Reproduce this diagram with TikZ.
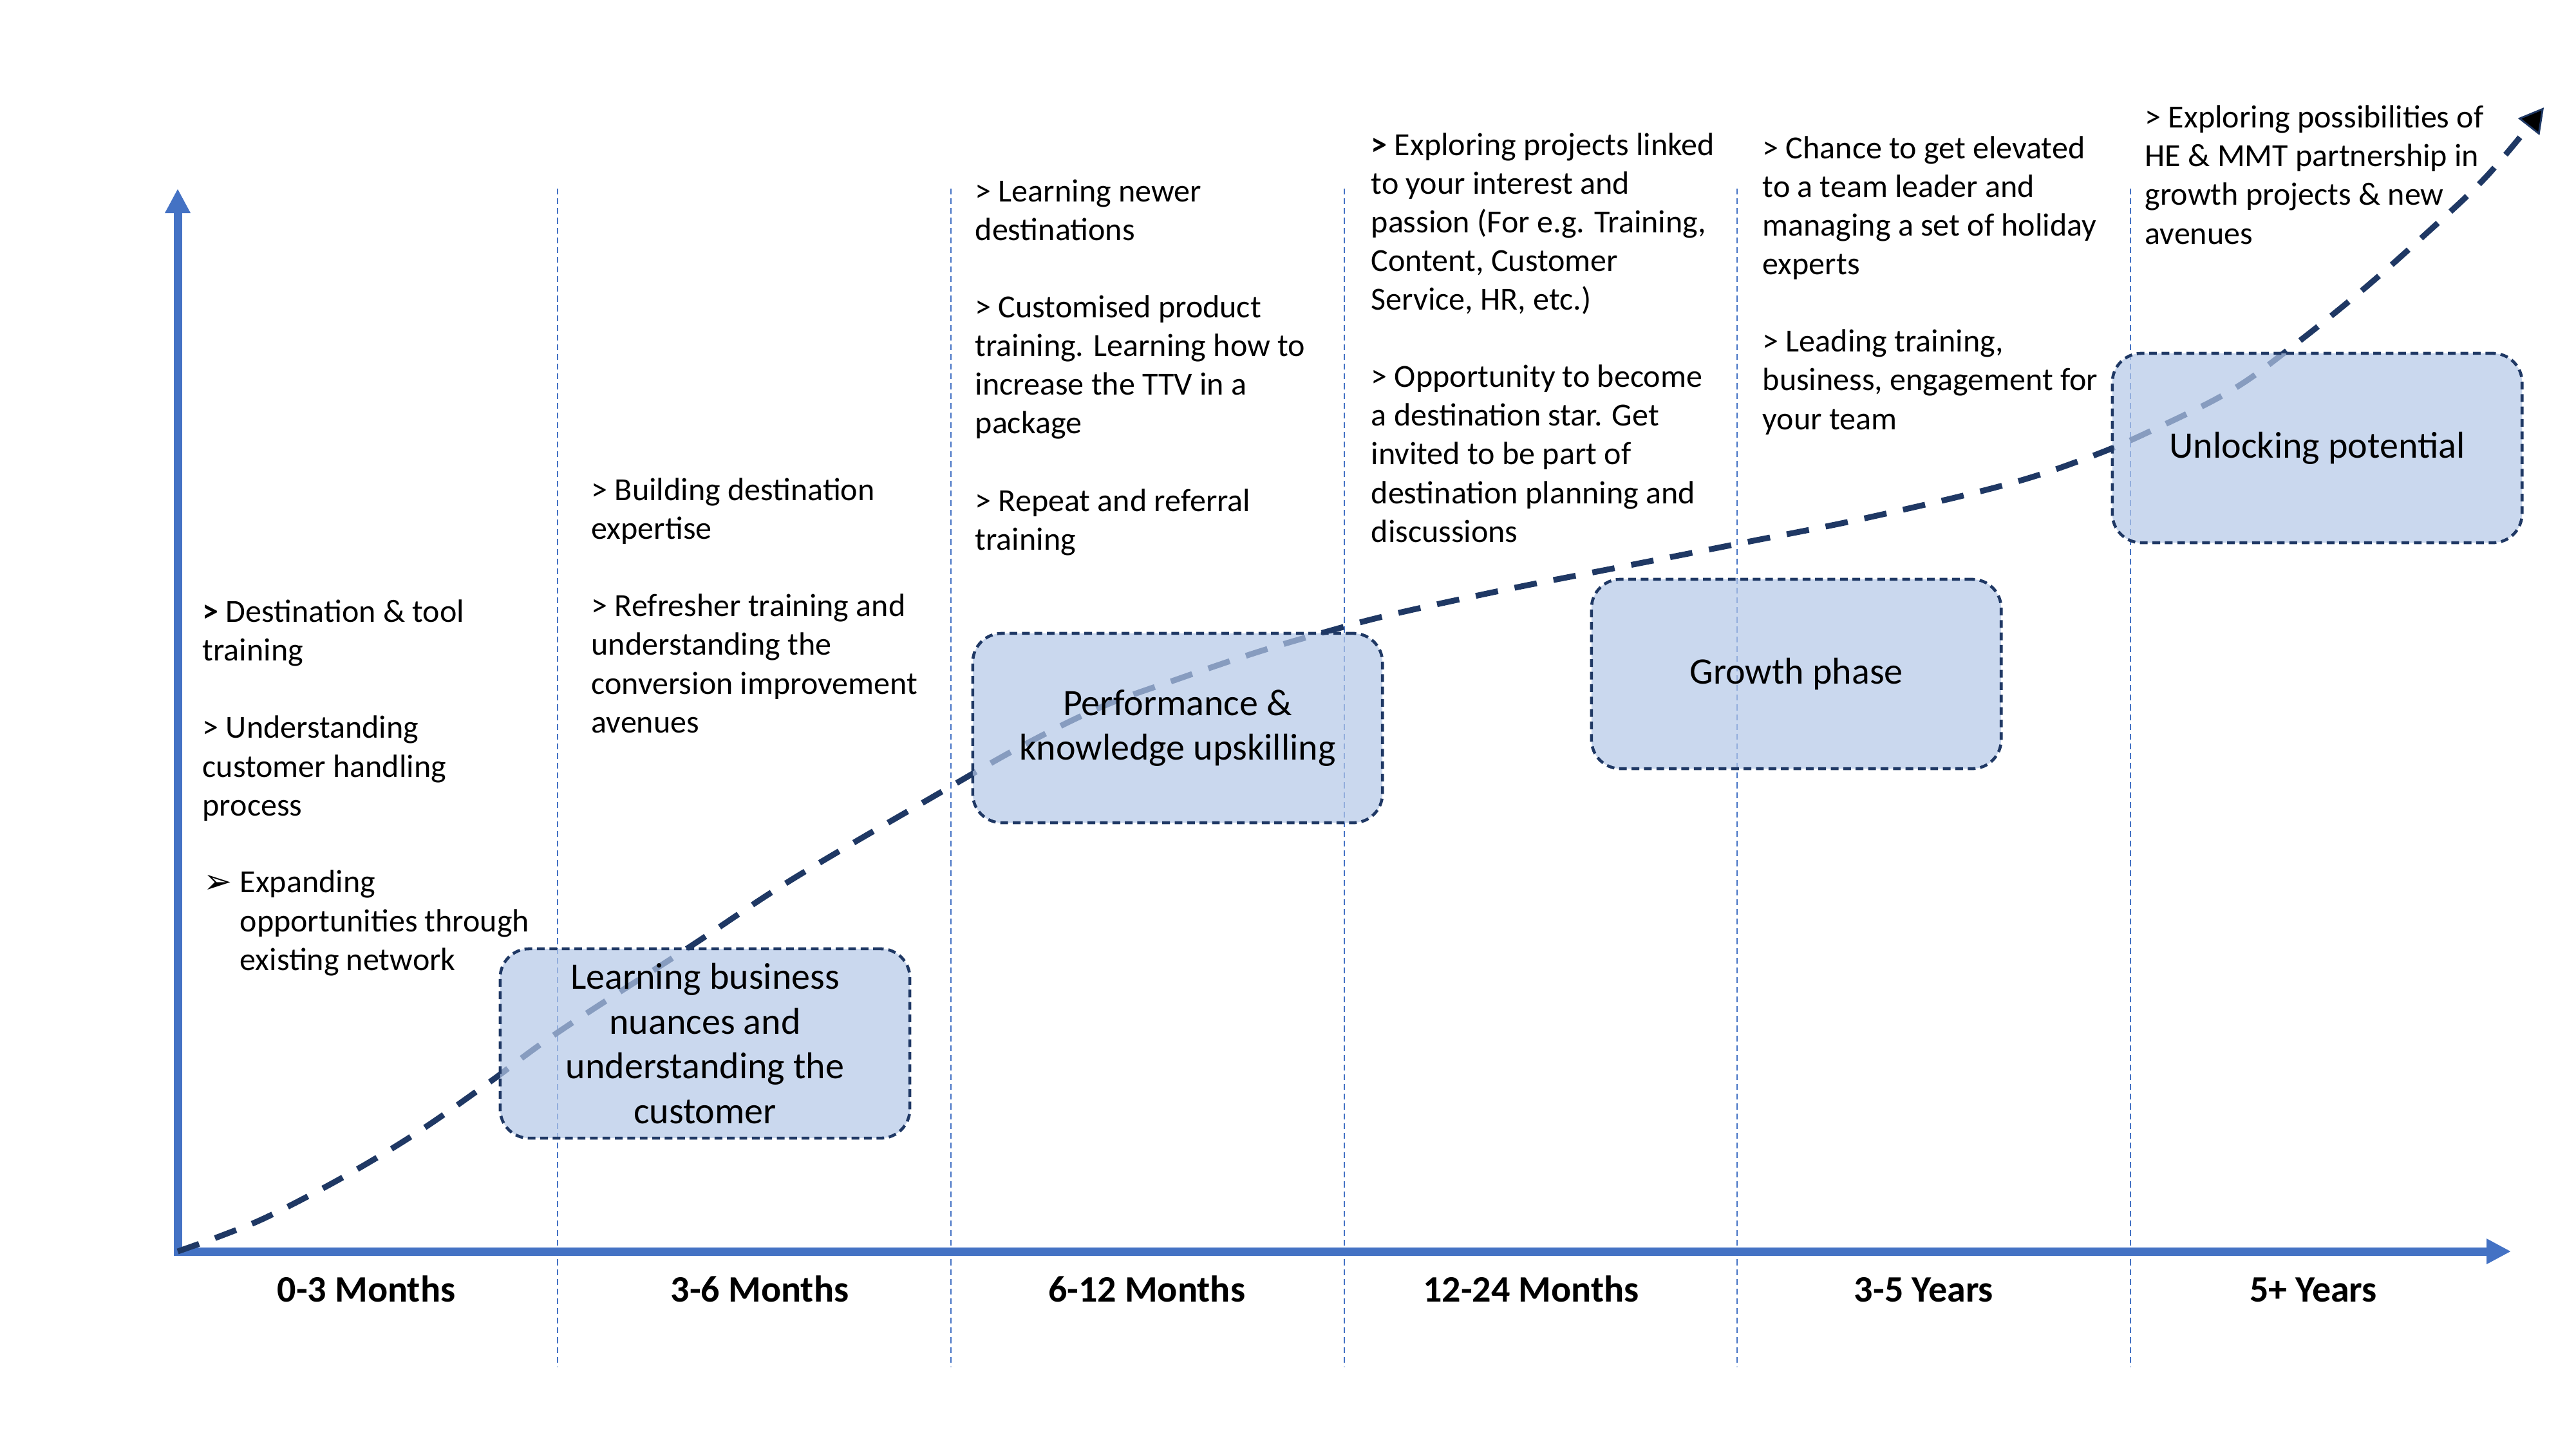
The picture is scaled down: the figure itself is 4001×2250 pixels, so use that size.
\documentclass[tikz,border=0pt]{standalone}
\usepackage{fontspec}
\setmainfont{Carlito}
\newfontfamily\symfont{DejaVu Sans}
\usetikzlibrary{arrows.meta}
\definecolor{axisblue}{HTML}{4472C4}
\definecolor{navy}{HTML}{1F3864}
\definecolor{boxfill}{HTML}{B4C7E7}
\newcommand{\pgap}{\\[17.07pt]}
\begin{document}
\begin{tikzpicture}[x=0.01cm,y=-0.01cm,
  body/.style={font=\fontsize{14.23pt}{17.07pt}\selectfont, align=left, anchor=base west, inner sep=0pt, text=black},
  phase/.style={draw=navy, line width=1.3pt, dash pattern=on 3.4pt off 2.1pt, fill=boxfill, fill opacity=0.7, text opacity=1, rounded corners=0.45cm, minimum width=6.36cm, minimum height=2.94cm, align=center, inner sep=0pt, font=\fontsize{16.5pt}{19.8pt}\selectfont},
  timelabel/.style={font=\fontsize{16.5pt}{19.8pt}\selectfont\bfseries, anchor=base, inner sep=0pt},
  axisline/.style={draw=axisblue, line width=0.13cm, -{Triangle[length=0.38cm,width=0.37cm]}},
  sepline/.style={draw=axisblue, line width=0.7pt, dash pattern=on 2.6pt off 1.7pt},
  growth/.style={draw=navy, line width=0.09cm, dash pattern=on 10pt off 7.5pt, -{Triangle[length=0.38cm,width=0.42cm,fill=black,line width=0.8pt]}}
]
\useasboundingbox (0,0) rectangle (4001,2250);

% separators
\foreach \i/\xx in {1/866,2/1477,3/2088,4/2698,5/3309}{
  \coordinate (s\i t) at (\xx,293);
  \coordinate (s\i b) at (\xx,2123);
  \draw[sepline] (s\i t) -- (s\i b);
}

% axes
\coordinate (O) at (276,1944);
\coordinate (Ov) at (276,1950);
\coordinate (Oh) at (270,1944);
\coordinate (ytip) at (276,293);
\coordinate (xtip) at (3900,1944);
\draw[axisline] (Ov) -- (ytip);
\draw[axisline] (Oh) -- (xtip);

% growth curve
\coordinate (cend) at (3951,167);
\draw[growth] plot[smooth, tension=0.6] coordinates {(O) (348,1918) (420,1888) (536,1827) (647,1760) (759,1682) (866,1604) (1071,1471) (1232,1365) (1459,1232) (1587,1159) (1711,1098) (1829,1055) (1953,1013) (2065,980) (2164,954) (2343,915) (2521,880) (2698,845) (2897,805) (3115,753) (3248,709) (3350,665) (3468,605) (3562,537) (3670,450) (3767,364) (3862,274) (cend)};

% phase boxes
\node[phase] (box1) at (1095,1621) {Learning business\\ nuances and\\ understanding the\\ customer};
\node[phase] (box2) at (1829,1131) {Performance \&\\ knowledge upskilling};
\node[phase] (box3) at (2790,1047) {Growth phase};
\node[phase] (box4) at (3599,696) {Unlocking potential};

% text columns (anchored at the baseline of the last line)
\node[body] (t1) at (314,1267) {\textbf{>} Destination \& tool\\ training\pgap > Understanding\\ customer handling\\ process};
\node[body, font=\symfont\fontsize{15pt}{17.07pt}\selectfont] (t1bullet) at (316,1387) {➢};
\node[body] (t1c) at (372,1507) {Expanding\\ opportunities through\\ existing network};

\node[body] (t2) at (918,1138) {> Building destination\\ expertise\pgap > Refresher training and\\ understanding the\\ conversion improvement\\ avenues};

\node[body] (t3) at (1514,854) {> Learning newer\\ destinations\pgap > Customised product\\ training. Learning how to\\ increase the TTV in a\\ package\pgap > Repeat and referral\\ training};

\node[body] (t4) at (2129,842) {\textbf{>} Exploring projects linked\\ to your interest and\\ passion (For e.g. Training,\\ Content, Customer\\ Service, HR, etc.)\pgap > Opportunity to become\\ a destination star. Get\\ invited to be part of\\ destination planning and\\ discussions};

\node[body] (t5) at (2737,667) {> Chance to get elevated\\ to a team leader and\\ managing a set of holiday\\ experts\pgap > Leading training,\\ business, engagement for\\ your team};

\node[body] (t6) at (3331,379) {> Exploring possibilities of\\ HE \& MMT partnership in\\ growth projects \& new\\ avenues};

% time labels
\node[timelabel] (lab1) at (569,2022) {0-3 Months};
\node[timelabel] (lab2) at (1180,2022) {3-6 Months};
\node[timelabel] (lab3) at (1781,2022) {6-12 Months};
\node[timelabel] (lab4) at (2378,2022) {12-24 Months};
\node[timelabel] (lab5) at (2988,2022) {3-5 Years};
\node[timelabel] (lab6) at (3593,2022) {5+ Years};
\end{tikzpicture}
\end{document}
